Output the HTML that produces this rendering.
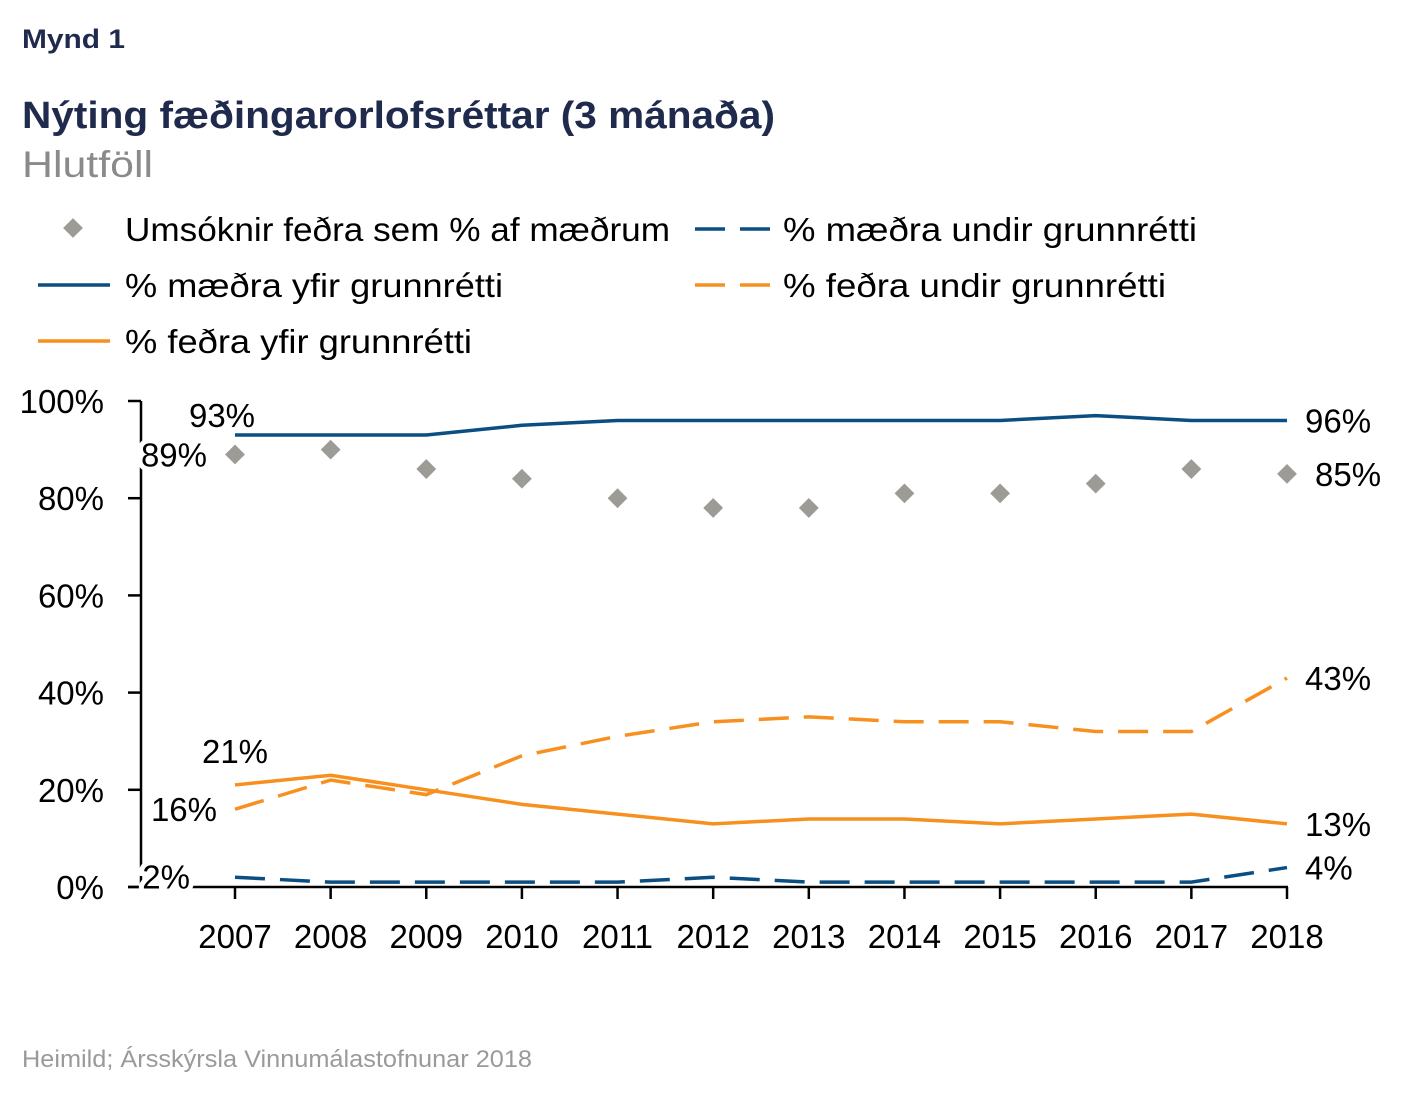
<!DOCTYPE html>
<html><head><meta charset="utf-8"><style>
body{margin:0;background:#fff;}
svg text{font-family:"Liberation Sans",sans-serif;}
</style></head><body>
<svg width="1425" height="1088" xmlns="http://www.w3.org/2000/svg">
<text x="22" y="48" font-size="27" font-weight="bold" fill="#1f2a4d" textLength="103" lengthAdjust="spacingAndGlyphs">Mynd 1</text>
<text x="22" y="128" font-size="38" font-weight="bold" fill="#1f2a4d" textLength="753" lengthAdjust="spacingAndGlyphs">Nýting fæðingarorlofsréttar (3 mánaða)</text>
<text x="22" y="177" font-size="37" fill="#8a8a8a" textLength="131" lengthAdjust="spacingAndGlyphs">Hlutföll</text>
<g font-size="33" fill="#000">
 <g><rect x="66" y="221" width="14" height="14" fill="#9d9b95" transform="rotate(45 73 228)"/><text x="125" y="241" textLength="545" lengthAdjust="spacingAndGlyphs">Umsóknir feðra sem % af mæðrum</text></g>
 <g><line x1="695" y1="229" x2="770" y2="229" stroke="#0b4e82" stroke-width="3.5" stroke-dasharray="30,15"/><text x="783" y="241" textLength="414" lengthAdjust="spacingAndGlyphs">% mæðra undir grunnrétti</text></g>
 <g><line x1="38" y1="285" x2="110" y2="285" stroke="#0b4e82" stroke-width="3.5"/><text x="125" y="297" textLength="378" lengthAdjust="spacingAndGlyphs">% mæðra yfir grunnrétti</text></g>
 <g><line x1="695" y1="285" x2="770" y2="285" stroke="#f7901e" stroke-width="3.5" stroke-dasharray="30,15"/><text x="783" y="297" textLength="383" lengthAdjust="spacingAndGlyphs">% feðra undir grunnrétti</text></g>
 <g><line x1="38" y1="341" x2="110" y2="341" stroke="#f7901e" stroke-width="3.5"/><text x="125" y="353" textLength="347" lengthAdjust="spacingAndGlyphs">% feðra yfir grunnrétti</text></g>
</g>
<g id="plot"></g>
<text x="22" y="1067" font-size="24" fill="#9a9a9a" textLength="510" lengthAdjust="spacingAndGlyphs">Heimild; Ársskýrsla Vinnumálastofnunar 2018</text>
</svg>
<script>
const years=["2007","2008","2009","2010","2011","2012","2013","2014","2015","2016","2017","2018"];
const applications=[89,90,86,84,80,78,78,81,81,83,86,85];
const mothersOver=[93,93,93,95,96,96,96,96,96,97,96,96];
const mothersUnder=[2,1,1,1,1,2,1,1,1,1,1,4];
const fathersUnder=[16,22,19,27,31,34,35,34,34,32,32,43];
const fathersOver=[21,23,20,17,15,13,14,14,13,14,15,13];
const yTicks=[0,20,40,60,80,100];
const NS="http://www.w3.org/2000/svg";
const g=document.getElementById('plot');
const X=i=>235+i*(1287-235)/11;
const Y=v=>887-v*4.86;
function mk(t,a,p){const e=document.createElementNS(NS,t);for(const k in a)e.setAttribute(k,a[k]);(p||g).appendChild(e);return e;}
let ya=mk('line',{x1:141,y1:Y(100),x2:141,y2:Y(0),stroke:'#000','stroke-width':2.5});


let xa=mk('line',{x1:128,y1:Y(0),x2:1288,y2:Y(0),stroke:'#000','stroke-width':2.5});


yTicks.forEach(v=>{
 const t=mk('line',{x1:128,y1:Y(v),x2:141,y2:Y(v),stroke:'#000','stroke-width':2.5});
 
 
 const l=mk('text',{x:104,y:Y(v)+12,'font-size':33,'text-anchor':'end'});l.textContent=v+'%';
 
 
});
years.forEach((yr,i)=>{
 const t=mk('line',{x1:X(i),y1:Y(0),x2:X(i),y2:Y(0)+12,stroke:'#000','stroke-width':2.5});
 
 
 const l=mk('text',{x:X(i),y:948,'font-size':33,'text-anchor':'middle'});l.textContent=yr;
 
 
});
function line(arr,color,dash,name){
 const p=mk('path',{d:arr.map((v,i)=>(i?'L':'M')+X(i)+','+Y(v)).join(''),fill:'none',stroke:color,'stroke-width':3.5,'stroke-dasharray':dash||'none'});
 
 
}
line(mothersOver,'#0b4e82',null,'line-mothers-over');
line(mothersUnder,'#0b4e82','30,15','line-mothers-under');
line(fathersUnder,'#f7901e','30,15','line-fathers-under');
line(fathersOver,'#f7901e',null,'line-fathers-over');
applications.forEach((v,i)=>{
 const d=mk('rect',{x:X(i)-7,y:Y(v)-7,width:14,height:14,fill:'#9d9b95',transform:`rotate(45 ${X(i)} ${Y(v)})`});
 
 
});
function lab(txt,x,y,anchor){
 const l=mk('text',{x:x,y:y,'font-size':33,'text-anchor':anchor||'start','paint-order':'stroke',stroke:'#fff','stroke-width':10});l.textContent=txt;
 
 
}
lab(mothersOver[0]+'%',X(0)-13,Y(mothersOver[0])-8,'middle');
lab(applications[0]+'%',X(0)-28,Y(applications[0])+12,'end');
lab(fathersOver[0]+'%',X(0),Y(fathersOver[0])-22,'middle');
lab(fathersUnder[0]+'%',X(0)-18,Y(fathersUnder[0])+12,'end');
lab(mothersUnder[0]+'%',X(0)-45,Y(mothersUnder[0])+11,'end');
lab(mothersOver[11]+'%',1305,Y(mothersOver[11])+12);
lab(applications[11]+'%',1315,Y(applications[11])+12);
lab(fathersUnder[11]+'%',1305,Y(fathersUnder[11])+12);
lab(fathersOver[11]+'%',1305,Y(fathersOver[11])+12);
lab(mothersUnder[11]+'%',1305,Y(mothersUnder[11])+12);
</script>
</body></html>
